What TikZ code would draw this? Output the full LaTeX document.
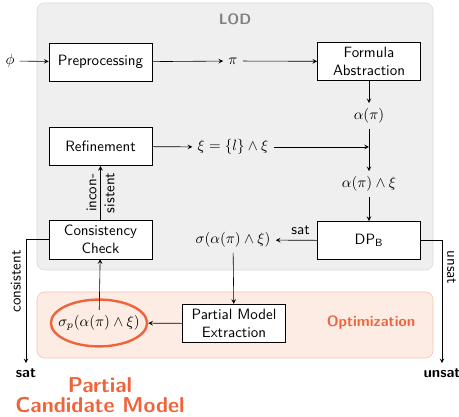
\documentclass[tikz,border=0pt]{standalone}
\usetikzlibrary{positioning, calc, shapes.geometric}
\definecolor{xorange}{HTML}{F0643C}
\definecolor{xpeach}{HTML}{FDECE3}
\definecolor{xgray}{HTML}{EFEFEF}
\tikzset{
	arrow/.style={->, >=stealth},
	block/.style={draw, fill=white, align=center, minimum width=2.42cm, minimum height=0.9cm},
	area/.style={rounded corners=5pt, thin},
}

\begin{document}
\begin{tikzpicture}[x=0.0235cm, y=-0.0235cm, font=\sffamily]
		\useasboundingbox (0,0) rectangle (459,417);
		% LOD
		\filldraw[area, fill=xgray, draw=gray!30] (37,3) rectangle (433,270);
		\node[text=gray, font=\sffamily\bfseries] (lod) at (235,19) {LOD};
		% Optimization
		\filldraw[area, fill=xpeach, draw=xorange!40] (37,292) rectangle (433,358);
		\node[text=xorange, font=\sffamily\bfseries] (opt) at (371,323) {Optimization};

		\node (phi) at (10,61) {$\phi$};
		\node[block] (pre) at (100.5,62) {Preprocessing};
		\node (pi) at (233,61) {$\pi$};
		\node[block] (fa) at (369,61.5) {Formula\\Abstraction};
		\node (ap) at (369,116) {$\alpha(\pi)$};

		\node[block] (ref) at (100.5,146.5) {Refinement};
		\node (xi) at (233,147) {$\xi = \{l\} \wedge \xi$};
		\coordinate (join) at (369,147);
		\node (apx) at (369,184) {$\alpha(\pi) \wedge \xi$};

		\node[block] (cc) at (100.5,239.5) {Consistency\\Check};
		\node (sig) at (233,240) {$\sigma(\alpha(\pi) \wedge \xi)$};
		\node[block] (dp) at (369,240.5) {DP\textsubscript{B}};

		\node (spt) at (99,323) {$\sigma_p(\alpha(\pi) \wedge \xi)$};
		\node[draw=xorange, line width=1.6pt, ellipse, minimum width=2.26cm, minimum height=1.1cm] (sp) at (spt) {};
		\node[block] (pme) at (234,323.5) {Partial Model\\Extraction};

		\node[font=\sffamily\bfseries] (sat) at (26,373) {sat};
		\node[font=\sffamily\bfseries] (unsat) at (442,373) {unsat};
		\node[text=xorange, font=\Large\sffamily\bfseries, align=center, inner sep=0pt] (pcm) at (100,395) {Partial\\[-5pt]Candidate Model};

		\draw[arrow] (phi) -- (pre);
		\draw[arrow] (pre) -- (pi);
		\draw[arrow] (pi) -- (fa);
		\draw[arrow] (fa) -- (ap);
		\draw[arrow] (ap) -- (apx);
		\draw[arrow] (ref) -- (xi);
		\draw[arrow] (xi) -- (join);
		\draw[arrow] (apx) -- (dp);

		\draw[arrow] (dp) -- node[above, pos=0.4] {sat} (sig);
		\draw[arrow] (sig) -- (pme);
		\draw[arrow] (pme) -- (sp);
		\draw[arrow] (spt) -- (cc);
		\draw[arrow] (cc) -- node[rotate=90, align=center] {incon-\\sistent} (ref);

		\draw[arrow] (cc) -| node[pos=0.67, rotate=90, above] {consistent} (sat);
		\draw[arrow] (dp) -| node[pos=0.61, rotate=-90, above] {unsat} (unsat);
	\end{tikzpicture}
\end{document}
